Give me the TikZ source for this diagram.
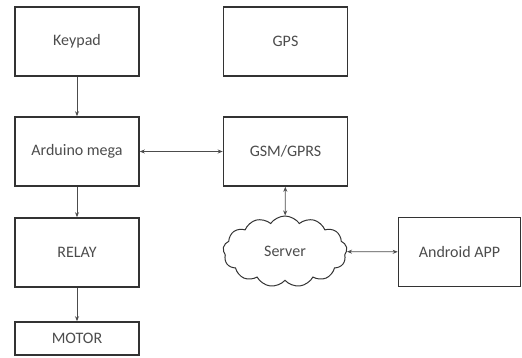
\documentclass[tikz,border=0pt]{standalone}
\usepackage{fontspec}
\setmainfont{Carlito}
\usetikzlibrary{arrows.meta,shapes.symbols}

\tikzset{
  block/.style={draw=black!80,line width=1.6pt,minimum width=124pt,minimum height=69pt,
    text=black!70,font=\fontsize{16}{18}\selectfont},
  link/.style={draw=black!70,line width=0.8pt,-{Stealth[length=5pt,width=4pt]}},
  twolink/.style={link,{Stealth[length=5pt,width=4pt]}-{Stealth[length=5pt,width=4pt]}}
}

\begin{document}
\begin{tikzpicture}[x=1pt,y=-1pt]
  \useasboundingbox (0,0) rectangle (522,358);
  % left column
  \node[block] (keypad) at (77,41.5) {Keypad};
  \node[block] (arduino) at (77,151.5) {Arduino mega};
  \node[block] (relay) at (77,252.5) {RELAY};
  \node[block,minimum height=33pt] (motor) at (77,338.5) {MOTOR};
  % right column
  \node[block] (gps) at (285.5,41.5) {GPS};
  \node[block] (gsm) at (285.5,151.5) {GSM/GPRS};
  \node[block,cloud,cloud puffs=13,cloud puff arc=110,aspect=1.8,
    line width=1pt,minimum width=124pt,minimum height=71pt,inner sep=0pt] (server) at (285,251.5) {Server};
  \node[block,minimum width=122pt] (android) at (459.5,252) {Android APP};
  % connectors
  \draw[link] (keypad) -- (arduino);
  \draw[link] (arduino) -- (relay);
  \draw[link] (relay) -- (motor);
  \draw[twolink] (arduino) -- (gsm);
  \draw[twolink] (gsm) -- (server);
  \draw[twolink] (server) -- (android);
\end{tikzpicture}
\end{document}
